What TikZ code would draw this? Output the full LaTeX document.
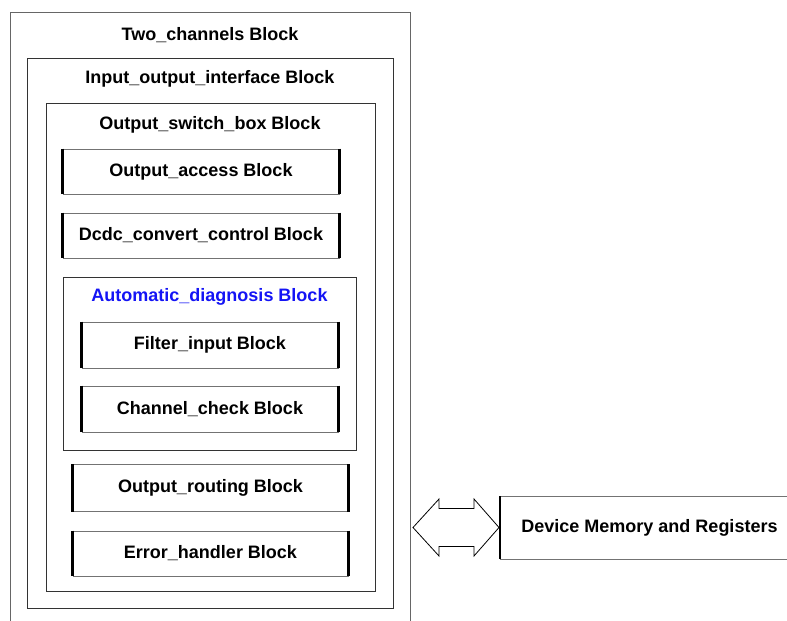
\documentclass[tikz,border=0pt]{standalone}
\usepackage{fontspec}
\setmainfont{Liberation Sans}
\begin{document}
\begin{tikzpicture}[x=1pt,y=-1pt,
  font=\fontsize{18}{21}\selectfont\bfseries,
  frame/.style={draw=black!80, line width=1pt, rectangle, inner sep=0pt},
  leaf/.style={draw=black!55, line width=0.9pt, rectangle, inner sep=0pt},
  side/.style={line width=2.2pt, draw=black},
  title/.style={inner sep=0pt, anchor=center},
]
\useasboundingbox (0,0) rectangle (787,621);
% outer open box
\draw[black!60, line width=1pt] (10,621) -- (10,12) -- (410,12) -- (410,621);
\node[title] (tc) at (210,35) {Two\_channels Block};
% io
\node[frame, minimum width=366pt, minimum height=550pt] (io) at (210,333) {};
\node[title] (iot) at (210,79) {Input\_output\_interface Block};
% switch box
\node[frame, minimum width=329pt, minimum height=488pt] (sw) at (210.5,347) {};
\node[title] (swt) at (210,125) {Output\_switch\_box Block};
\node[leaf, minimum width=276pt, minimum height=45pt] (oa) at (201,171.5) {Output\_access Block};
\node[leaf, minimum width=276pt, minimum height=45pt] (dc) at (201,235.5) {Dcdc\_convert\_control Block};
% automatic diagnosis
\node[frame, minimum width=293pt, minimum height=173pt] (ad) at (209.5,363.5) {};
\node[title, text={rgb,255:red,20;green,20;blue,245}] (adt) at (209.5,297) {Automatic\_diagnosis Block};
\node[leaf, minimum width=256pt, minimum height=46pt] (fi) at (210,345) {Filter\_input Block};
\node[leaf, minimum width=256pt, minimum height=46pt] (cc) at (210,409) {Channel\_check Block};
\node[leaf, minimum width=275pt, minimum height=47pt] (orr) at (210.5,488) {Output\_routing Block};
\node[leaf, minimum width=275pt, minimum height=45pt] (eh) at (210.5,553.5) {Error\_handler Block};
\foreach \n in {oa,dc,fi,cc,orr,eh}
  \draw[side] (\n.north west) -- (\n.south west) (\n.north east) -- (\n.south east);
% device memory
\draw[black!55, line width=0.9pt] (800,496) -- (500,496) -- (500,559) -- (800,559);
\coordinate (devw) at (500,496);
\coordinate (devsw) at (500,559);
\draw[side] (devw) -- (devsw);
\node[title] (dev) at (649.5,527.5) {Device Memory and Registers};
% double block arrow
\coordinate (arr) at (456,527.5);
\draw[black, line width=0.8pt, line join=miter]
  ([shift={(-43,0)}]arr) -- ([shift={(-17,-28.5)}]arr) -- ([shift={(-17,-19)}]arr)
  -- ([shift={(18,-19)}]arr) -- ([shift={(18,-28.5)}]arr) -- ([shift={(43,0)}]arr)
  -- ([shift={(18,28.5)}]arr) -- ([shift={(18,19)}]arr) -- ([shift={(-17,19)}]arr)
  -- ([shift={(-17,28.5)}]arr) -- cycle;
\end{tikzpicture}
\end{document}
